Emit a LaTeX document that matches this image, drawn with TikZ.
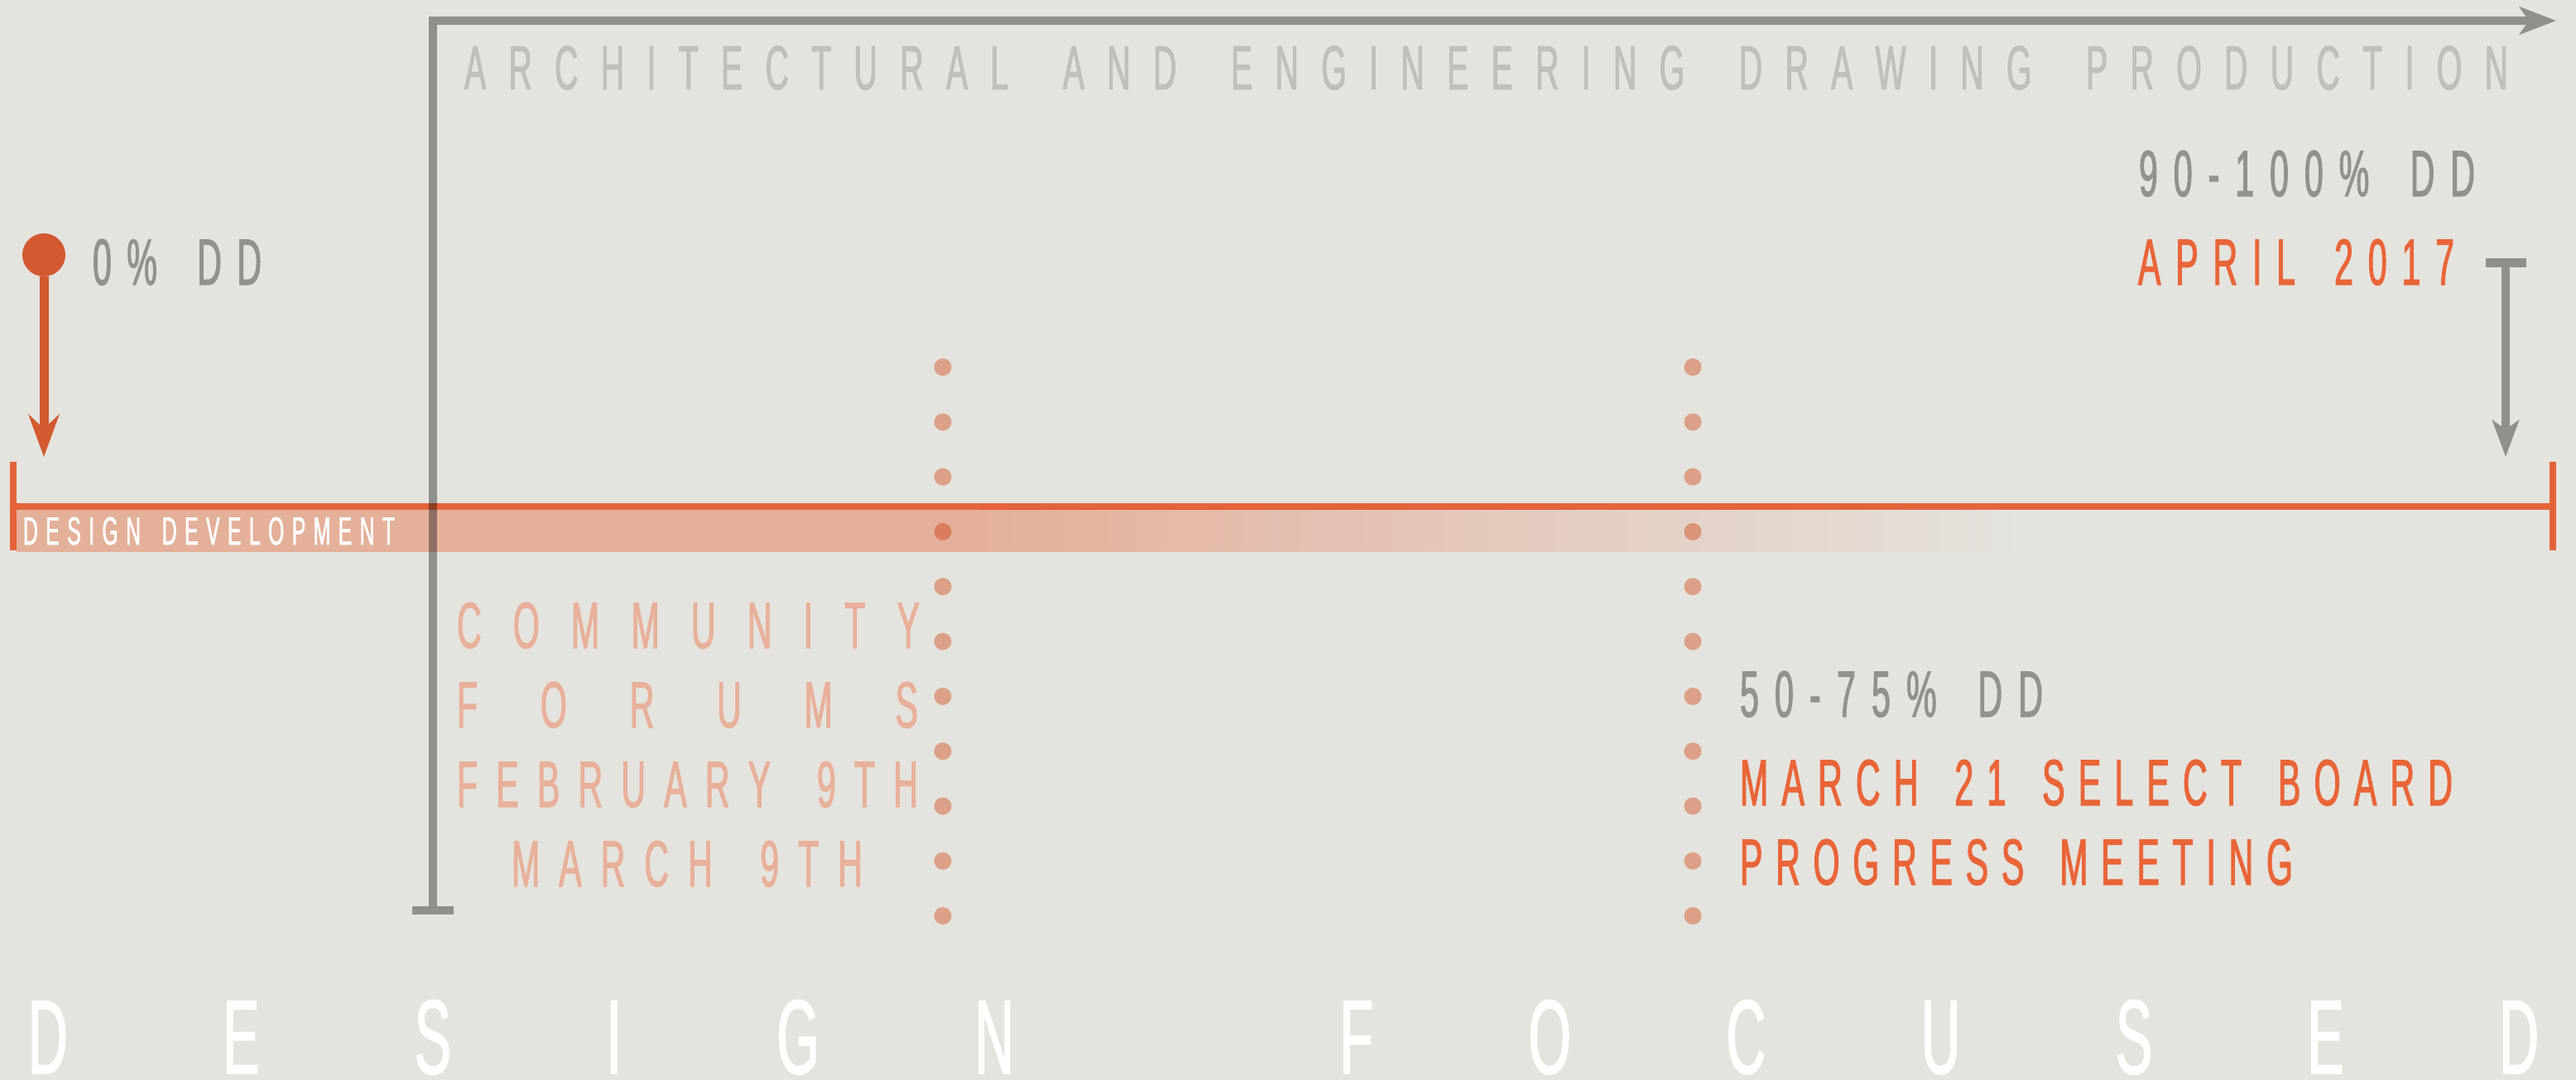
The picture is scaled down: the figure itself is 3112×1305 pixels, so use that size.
\documentclass[tikz,border=0pt]{standalone}
\usepackage{fontspec}
\setmainfont{Liberation Sans}[FakeStretch=0.52, FakeBold=1.3]
\usetikzlibrary{arrows.meta}
\definecolor{bg}{RGB}{228,227,222}
\definecolor{bracketgray}{RGB}{143,143,139}
\definecolor{titlegray}{RGB}{192,191,186}
\definecolor{txtgray}{RGB}{146,145,139}
\definecolor{orangetxt}{RGB}{233,101,56}
\definecolor{salmon}{RGB}{232,176,154}
\definecolor{arroworange}{RGB}{210,89,48}
\definecolor{bandmul}{RGB}{255,198,178}
\definecolor{linemul}{RGB}{255,112,67}
\definecolor{dotmul}{RGB}{246,180,156}
\makeatletter
\def\tr@end{\tr@end}
\newcommand\trk[2]{\makebox[#1][s]{\tr@first#2\tr@end}}
\def\tr@first#1{\ifx#1\tr@end\else#1\expandafter\tr@next\fi}
\def\tr@next#1{\ifx#1\tr@end\else\hfill#1\expandafter\tr@next\fi}
\makeatother
\tikzset{
  lbl/.style={inner sep=0pt, outer sep=0pt, anchor=base west},
  titlefont/.style={font=\fontsize{75.4}{76}\selectfont, text=titlegray},
  bigfont/.style={font=\fontsize{79}{80}\selectfont},
  smallfont/.style={font=\fontsize{47.5}{48}\selectfont, text=white},
  hugefont/.style={font=\fontsize{127}{128}\selectfont, text=white},
  graytxt/.style={bigfont, text=txtgray},
  orangetext/.style={bigfont, text=orangetxt},
  salmontxt/.style={bigfont, text=salmon},
  bracketline/.style={draw=bracketgray, line width=10.5pt},
  dotstyle/.style={fill=dotmul},
}
\begin{document}
\begin{tikzpicture}[x=1pt, y=-1pt]
\useasboundingbox (0,0) rectangle (3112,1305);
\fill[bg] (0,0) rectangle (3112,1305);

% gray bracket (behind band)
\coordinate (brL) at (498,1100);
\coordinate (brR) at (548,1100);
\coordinate (brB) at (523,1100);
\coordinate (brC) at (523,25);
\coordinate (brE) at (3088,25);
\draw[bracketline] (brL) -- (brR);
\draw[bracketline, -{Stealth[length=44pt,width=33pt,inset=11pt]}] (brB) -- (brC) -- (brE);

% right gray T arrow
\coordinate (tL) at (3003,318);
\coordinate (tR) at (3052,318);
\coordinate (tT) at (3027,318);
\coordinate (tE) at (3027,552);
\draw[draw=bracketgray, line width=11pt] (tL) -- (tR);
\draw[draw=bracketgray, line width=10pt, -{Stealth[length=44pt,width=32pt,inset=11pt]}] (tT) -- (tE);

% band, timeline and dots (multiply)
\begin{scope}[blend mode=multiply]
  \fill[bandmul] (20,615.7) rectangle (1183,666.7);
  \shade[left color=bandmul, right color=white] (1183,615.7) rectangle (2441,666.7);
  \coordinate (lA) at (16,558);
  \coordinate (lB) at (16,665);
  \coordinate (lS) at (16,611.7);
  \coordinate (lE) at (3084,611.7);
  \coordinate (rA) at (3084,558);
  \coordinate (rB) at (3084,665);
  \draw[draw=linemul, line width=8pt] (lA) -- (lB) (lS) -- (lE) (rA) -- (rB);
  \foreach \i in {0,...,10}{
    \fill[dotstyle] (1139,{443.6+66.3*\i}) circle (10.5pt);
    \fill[dotstyle] (2045,{443.6+66.3*\i}) circle (10.5pt);
  }
\end{scope}

% orange start arrow
\node[circle, fill=arroworange, minimum size=52pt, inner sep=0pt] (dot0) at (53,308) {};
\coordinate (tip0) at (53,552);
\draw[draw=arroworange, line width=11pt, -{Stealth[length=51pt,width=37pt,inset=17pt]}] (dot0) -- (tip0);

% texts
\node[lbl, titlefont] (title) at (561,108) {\trk{2469pt}{ARCHITECTURAL~AND~ENGINEERING~DRAWING~PRODUCTION}};
\node[lbl, graytxt] (dd0) at (112,344) {\trk{204pt}{0\%~DD}};
\node[lbl, graytxt] (dd90) at (2584,237) {\trk{406pt}{90-100\%~DD}};
\node[lbl, orangetext] (apr) at (2583,344) {\trk{382pt}{APRIL~2017}};
\node[lbl, smallfont] (ddev) at (28,658) {\trk{449pt}{DESIGN~DEVELOPMENT}};
\node[lbl, salmontxt] (cf1) at (552,783) {\trk{559pt}{COMMUNITY}};
\node[lbl, salmontxt] (cf2) at (552,879) {\trk{557pt}{FORUMS}};
\node[lbl, salmontxt] (cf3) at (552,975) {\trk{557pt}{FEBRUARY~9TH}};
\node[lbl, salmontxt] (cf4) at (618,1071) {\trk{424pt}{MARCH~9TH}};
\node[lbl, graytxt] (dd50) at (2102,866) {\trk{366pt}{50-75\%~DD}};
\node[lbl, orangetext] (m21) at (2102,973) {\trk{861pt}{MARCH~21~SELECT~BOARD}};
\node[lbl, orangetext] (prog) at (2102,1069) {\trk{668pt}{PROGRESS~MEETING}};
\node[lbl, hugefont] (focus) at (34,1297) {\trk{3033pt}{DESIGN~FOCUSED}};
\end{tikzpicture}
\end{document}
